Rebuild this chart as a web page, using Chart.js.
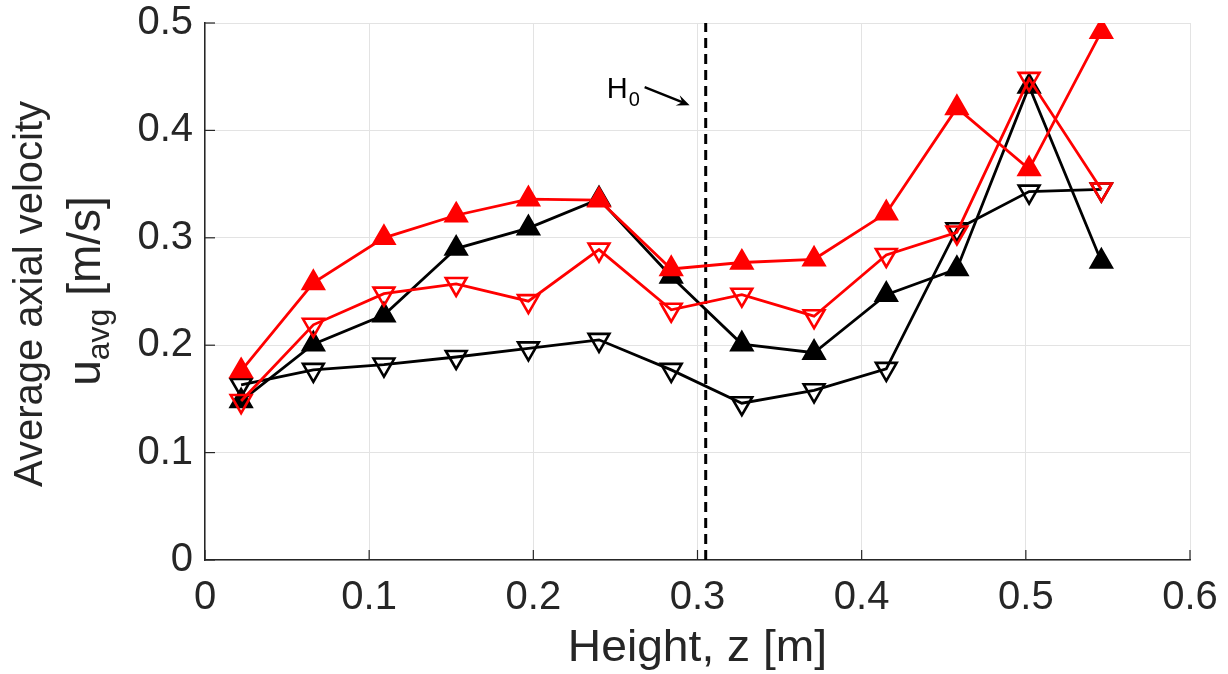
<!DOCTYPE html>
<html>
<head>
<meta charset="utf-8">
<script src="https://cdn.jsdelivr.net/npm/chart.js@4/dist/chart.umd.min.js"></script>
<style>
  body { margin: 0; background: #fff; }
  #wrap { width: 1228px; height: 674px; position: relative; }
</style>
</head>
<body>
<div id="wrap"><canvas id="velChart"></canvas></div>
<script>
// heights along the column [m]
const heightZ = [0.022, 0.066, 0.109, 0.153, 0.197, 0.240, 0.284, 0.327, 0.371, 0.415, 0.458, 0.502, 0.546];

// average axial velocity [m/s] for the four cases
const blackFilled = [0.148, 0.201, 0.228, 0.290, 0.309, 0.336, 0.264, 0.201, 0.193, 0.247, 0.271, 0.441, 0.278];
const blackOpen   = [0.163, 0.177, 0.182, 0.189, 0.197, 0.205, 0.177, 0.146, 0.158, 0.178, 0.308, 0.343, 0.345];
const redFilled   = [0.176, 0.258, 0.300, 0.321, 0.336, 0.335, 0.271, 0.277, 0.280, 0.323, 0.421, 0.364, 0.492];
const redOpen     = [0.148, 0.219, 0.248, 0.257, 0.241, 0.289, 0.233, 0.247, 0.227, 0.284, 0.305, 0.448, 0.345];

// H0 marker line
const h0 = 0.305;

const xTicks = [0, 0.1, 0.2, 0.3, 0.4, 0.5, 0.6];
const yTicks = [0, 0.1, 0.2, 0.3, 0.4, 0.5];

const FONT = "'Liberation Sans', Arial, Helvetica, sans-serif";
const TXT = '#262626';

function pts(ys) {
    return heightZ.map((x, i) => ({ x: x, y: ys[i] }));
}

function series(ys, color, filled, order) {
    return {
        data: pts(ys),
        borderColor: color,
        borderWidth: 2.8,
        pointStyle: 'triangle',
        pointRotation: filled ? 0 : 180,
        pointRadius: 12,
        pointHoverRadius: 12,
        pointBorderWidth: 2.6,
        pointBorderColor: color,
        pointBackgroundColor: filled ? color : 'rgba(0,0,0,0)',
        fill: false,
        tension: 0,
        order: order
    };
}

// titles, inner ticks and the H0 annotation
const overlay = {
    id: 'overlay',
    afterDraw(chart) {
        const ctx = chart.ctx;
        const x = chart.scales.x, y = chart.scales.y;
        const area = chart.chartArea;
        ctx.save();

        // inward tick marks
        ctx.strokeStyle = TXT;
        ctx.lineWidth = 1.2;
        xTicks.forEach(v => {
            const px = x.getPixelForValue(v);
            ctx.beginPath();
            ctx.moveTo(px, area.bottom);
            ctx.lineTo(px, area.bottom - 10);
            ctx.stroke();
        });
        yTicks.forEach(v => {
            const py = y.getPixelForValue(v);
            ctx.beginPath();
            ctx.moveTo(area.left, py);
            ctx.lineTo(area.left + 10, py);
            ctx.stroke();
        });

        ctx.fillStyle = TXT;

        // x title
        ctx.save();
        ctx.translate((area.left + area.right) / 2, 661);
        ctx.scale(1.05, 1);
        ctx.font = '44px ' + FONT;
        ctx.textAlign = 'center';
        ctx.textBaseline = 'alphabetic';
        ctx.fillText('Height, z [m]', 0, 0);
        ctx.restore();

        // y title, line 1
        ctx.save();
        ctx.translate(42, 294);
        ctx.rotate(-Math.PI / 2);
        ctx.font = '40px ' + FONT;
        ctx.textAlign = 'center';
        ctx.textBaseline = 'alphabetic';
        ctx.fillText('Average axial velocity', 0, 0);
        ctx.restore();

        // y title, line 2 with subscript
        ctx.save();
        ctx.translate(100, 291);
        ctx.rotate(-Math.PI / 2);
        ctx.textAlign = 'left';
        ctx.textBaseline = 'alphabetic';
        const big = '46px ' + FONT, small = '32px ' + FONT;
        ctx.font = big;
        const wU = ctx.measureText('u').width;
        const wRest = ctx.measureText(' [m/s]').width;
        ctx.font = small;
        const wSub = ctx.measureText('avg').width;
        let cx = -(wU + wSub + wRest) / 2;
        ctx.font = big;
        ctx.fillText('u', cx, 0);
        cx += wU;
        ctx.font = small;
        ctx.fillText('avg', cx, 9);
        cx += wSub;
        ctx.font = big;
        ctx.fillText(' [m/s]', cx, 0);
        ctx.restore();

        // H0 label and arrow
        const hx = x.getPixelForValue(0.2447), hy = y.getPixelForValue(0.430);
        ctx.font = '29px ' + FONT;
        ctx.textAlign = 'left';
        ctx.fillStyle = '#000';
        ctx.fillText('H', hx, hy);
        const wH = ctx.measureText('H').width;
        ctx.font = '20px ' + FONT;
        ctx.fillText('0', hx + wH + 1, hy + 8);

        const ax0 = x.getPixelForValue(0.2678), ay0 = y.getPixelForValue(0.4403);
        const ax1 = x.getPixelForValue(0.2952), ay1 = y.getPixelForValue(0.4235);
        const ang = Math.atan2(ay1 - ay0, ax1 - ax0);
        ctx.strokeStyle = '#000';
        ctx.lineWidth = 2.4;
        ctx.beginPath();
        ctx.moveTo(ax0, ay0);
        ctx.lineTo(ax1 - 6 * Math.cos(ang), ay1 - 6 * Math.sin(ang));
        ctx.stroke();
        ctx.beginPath();
        ctx.moveTo(ax1, ay1);
        ctx.lineTo(ax1 - 14 * Math.cos(ang - 0.4), ay1 - 14 * Math.sin(ang - 0.4));
        ctx.lineTo(ax1 - 8 * Math.cos(ang), ay1 - 8 * Math.sin(ang));
        ctx.lineTo(ax1 - 14 * Math.cos(ang + 0.4), ay1 - 14 * Math.sin(ang + 0.4));
        ctx.closePath();
        ctx.fill();

        ctx.restore();
    }
};

new Chart('velChart', {
    type: 'line',
    data: {
        datasets: [
            {
                data: [{ x: h0, y: 0 }, { x: h0, y: 0.5 }],
                borderColor: '#000',
                borderWidth: 3,
                borderDash: [10, 6],
                pointRadius: 0,
                pointHoverRadius: 0,
                fill: false,
                order: 5
            },
            series(blackOpen, '#000000', false, 4),
            series(blackFilled, '#000000', true, 3),
            series(redOpen, '#ff0000', false, 2),
            series(redFilled, '#ff0000', true, 1)
        ]
    },
    options: {
        responsive: true,
        maintainAspectRatio: false,
        animation: false,
        layout: { padding: { top: 23, right: 38, left: 0, bottom: 0 } },
        plugins: {
            legend: { display: false },
            tooltip: { enabled: false }
        },
        scales: {
            x: {
                type: 'linear',
                min: 0,
                max: 0.6,
                afterFit: s => {
                    s.height = 114;
                    s.paddingLeft = 0;
                    s.paddingRight = 0;
                },
                afterBuildTicks: s => { s.ticks = xTicks.map(v => ({ value: v })); },
                grid: { color: '#e3e3e3', lineWidth: 1, drawTicks: false },
                border: { display: true, color: TXT, width: 1.5 },
                ticks: {
                    padding: 14,
                    color: TXT,
                    font: { family: FONT, size: 40 },
                    maxRotation: 0,
                    callback: v => String(+v.toFixed(1))
                }
            },
            y: {
                min: 0,
                max: 0.5,
                afterFit: s => {
                    s.width = 205;
                    s.paddingTop = 0;
                    s.paddingBottom = 0;
                },
                afterBuildTicks: s => { s.ticks = yTicks.map(v => ({ value: v })); },
                grid: { color: '#e3e3e3', lineWidth: 1, drawTicks: false },
                border: { display: true, color: TXT, width: 1.5 },
                ticks: {
                    padding: 12,
                    color: TXT,
                    font: { family: FONT, size: 40 },
                    callback: v => String(+v.toFixed(1))
                }
            }
        }
    },
    plugins: [overlay]
});
</script>
</body>
</html>
